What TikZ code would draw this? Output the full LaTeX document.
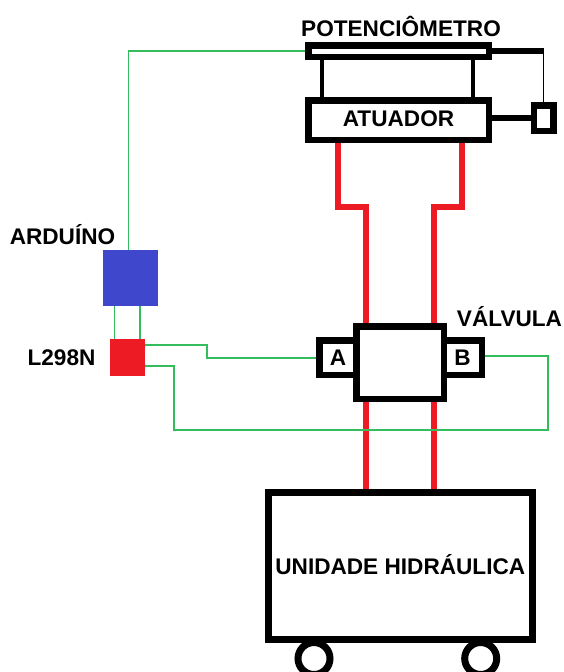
\documentclass[tikz,border=0pt]{standalone}
\usepackage{fontspec}
\setmainfont{Liberation Sans}
\definecolor{wirered}{HTML}{ED1C24}
\definecolor{wiregreen}{HTML}{35BC5C}
\definecolor{boxblue}{HTML}{3F48CC}
\tikzset{
  every node/.style={font=\bfseries\fontsize{22.6}{26}\selectfont},
  blackbox/.style={draw=black,fill=white,line width=6.5pt,inner sep=0pt},
  solidbox/.style={inner sep=0pt,outer sep=0pt},
  txt/.style={inner sep=0pt,outer sep=0pt},
  hose/.style={draw=wirered,line width=6.5pt},
  wire/.style={draw=wiregreen,line width=1.6pt},
  linkbar/.style={draw=black,line width=6.5pt},
  thinbar/.style={draw=black,line width=1.5pt},
  supportbar/.style={draw=black,line width=4.5pt},
  wheel/.style={circle,draw=black,fill=white,line width=7pt,minimum size=32pt,inner sep=0pt}
}
\begin{document}
\begin{tikzpicture}[x=1pt,y=-1pt]
\useasboundingbox (0,0) rectangle (563,672);
\fill[white] (0,0) rectangle (563,672);
% wheels
\node[wheel] (wl) at (314,658.5) {};
\node[wheel] (wr) at (480.7,658.5) {};
% boxes
\node[blackbox,minimum width=180.5pt,minimum height=11.5pt] (pot) at (398.5,51) {};
\node[blackbox,minimum width=180.5pt,minimum height=39.5pt] (atu) at (398.5,120) {\raisebox{2pt}{ATUADOR}};
\node[blackbox,minimum width=19.5pt,minimum height=25.5pt] (sens) at (543.7,118) {};
\node[blackbox,minimum width=37.5pt,minimum height=34.5pt] (pa) at (338,357.5) {A};
\node[blackbox,minimum width=38.5pt,minimum height=34.5pt] (pb) at (462.5,357.5) {B};
\node[blackbox,minimum width=87.5pt,minimum height=72.5pt] (val) at (400,362.5) {};
\node[blackbox,line width=7pt,minimum width=263.7pt,minimum height=147pt] (uni) at (400.3,566) {\raisebox{4pt}{UNIDADE HIDRÁULICA}};
\node[solidbox,fill=boxblue,minimum width=55pt,minimum height=56pt] (ard) at (130.5,278) {};
\node[solidbox,fill=wirered,minimum width=35pt,minimum height=37pt] (drv) at (127.5,357.5) {};
% labels
\node[txt] (tpot) at (401,26) {POTENCIÔMETRO};
\node[txt] (tard) at (62.5,235) {ARDUÍNO};
\node[txt] (tdrv) at (61.5,357.5) {L298N};
\node[txt] (tval) at (509.5,316.5) {VÁLVULA};
% mechanical links
\draw[supportbar] ([xshift=17pt]pot.south west) -- ([xshift=17pt]atu.north west);
\draw[supportbar] ([xshift=-19pt]pot.south east) -- ([xshift=-19pt]atu.north east);
\draw[linkbar] (pot.east) -- (pot.east -| sens.north) coordinate (bend);
\draw[thinbar] ([yshift=3pt]bend) -- (sens.north);
\draw[linkbar] (atu.east |- sens.west) -- (sens.west);
% hoses
\draw[hose] ([xshift=-60.5pt]atu.south) -- ++(0,64) -| ([xshift=-34pt]val.north);
\draw[hose] ([xshift=63.5pt]atu.south) -- ++(0,64) -| ([xshift=34pt]val.north);
\draw[hose] ([xshift=-34pt]val.south) -- ([xshift=-34.3pt]uni.north);
\draw[hose] ([xshift=34pt]val.south) -- ([xshift=33.7pt]uni.north);
% wires
\draw[wire] (pot.west) -| ([xshift=-2.2pt]ard.north);
\draw[wire] ([xshift=-16.2pt]ard.south) -- ([xshift=-13.2pt]drv.north);
\draw[wire] ([xshift=9.5pt]ard.south) -- ([xshift=12.5pt]drv.north);
\draw[wire] ([yshift=12.5pt]drv.east) -- ++(62,0) |- ([yshift=-0.6pt]pa.west);
\draw[wire] ([yshift=-8.5pt]drv.east) -- ++(29,0) |- ++(373.7,64) |- ([yshift=1.5pt]pb.east);
\end{tikzpicture}
\end{document}
